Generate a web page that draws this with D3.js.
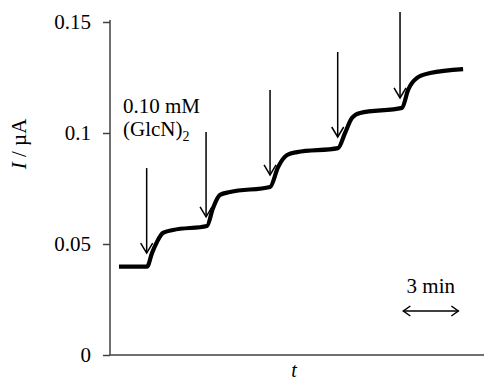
<!DOCTYPE html>
<html>
<head>
<meta charset="utf-8">
<script src="https://cdn.jsdelivr.net/npm/d3@7"></script>
<style>
  html, body { margin: 0; padding: 0; background: #fff; }
  text { font-family: "Liberation Serif", "Times New Roman", serif; fill: #000; }
</style>
</head>
<body>
<svg id="chart" width="484" height="380"></svg>
<script>
// amperometric trace, time in minutes, current in µA
const timeMin = [0.49, 2.02, 2.29, 2.56, 2.89, 3.44, 5.29, 5.62, 6.0, 6.55, 8.73, 9.17, 9.66, 10.2, 12.44, 12.82, 13.2, 13.64, 15.93, 16.26, 16.75, 17.46, 19.26];
const current = [0.0398, 0.0398, 0.0459, 0.0509, 0.0550, 0.0563, 0.0581, 0.0662, 0.0721, 0.0734, 0.0757, 0.0847, 0.0901, 0.0914, 0.0932, 0.1000, 0.1068, 0.1090, 0.1113, 0.1194, 0.1248, 0.1270, 0.1288];

// injection arrows
const arrowTime = [2.0, 5.24, 8.73, 12.42, 15.82];
const arrowTop = [0.0842, 0.1005, 0.1194, 0.1365, 0.1545];
const arrowTip = [0.0459, 0.0622, 0.0811, 0.0982, 0.1158];

const yTicks = [0, 0.05, 0.1, 0.15];
const yTickLabels = ['0', '0.05', '0.1', '0.15'];

const svg = d3.select('#chart');
const margin = { top: 22, right: 0, bottom: 25, left: 110 };
const width = 484 - margin.left - margin.right;
const height = 380 - margin.top - margin.bottom;

const x = d3.scaleLinear().domain([0, 20.4]).range([0, width]);
const y = d3.scaleLinear().domain([0, 0.15]).range([height, 0]);

const g = svg.append('g')
  .attr('transform', `translate(${margin.left},${margin.top})`);

// y axis
const yAxis = g.append('g')
  .call(d3.axisLeft(y).tickValues(yTicks).tickSize(7).tickPadding(12)
    .tickFormat((d, i) => yTickLabels[i]));
yAxis.select('.domain').attr('stroke', '#404040').attr('stroke-width', 1.5)
  .attr('d', `M0,${y(0.15) - 2}V${height}`);
yAxis.selectAll('.tick line').attr('stroke', '#404040').attr('stroke-width', 1.5);
yAxis.selectAll('.tick text')
  .style('font-family', '"Liberation Serif", serif')
  .style('font-size', '21px')
  .attr('fill', '#000');

// x axis (no ticks)
g.append('line')
  .attr('x1', 0).attr('x2', width)
  .attr('y1', height).attr('y2', height)
  .attr('stroke', '#404040').attr('stroke-width', 1.5);

// trace
const pts = timeMin.map((t, i) => [t, current[i]]);
g.append('path')
  .datum(pts)
  .attr('fill', 'none')
  .attr('stroke', '#000')
  .attr('stroke-width', 4.2)
  .attr('stroke-linejoin', 'round')
  .attr('d', d3.line().x(d => x(d[0])).y(d => y(d[1])).curve(d3.curveMonotoneX));

// arrows
arrowTime.forEach((t, i) => {
  const ax = x(t), y0 = y(arrowTop[i]), y1 = y(arrowTip[i]);
  g.append('line')
    .attr('x1', ax).attr('x2', ax).attr('y1', y0).attr('y2', y1)
    .attr('stroke', '#000').attr('stroke-width', 1.5);
  g.append('path')
    .attr('d', `M${ax - 6},${y1 - 10}L${ax},${y1}L${ax + 6},${y1 - 10}`)
    .attr('fill', 'none').attr('stroke', '#000').attr('stroke-width', 1.5);
});

// annotation
const note = g.append('text').attr('x', 13).attr('y', 113 - margin.top)
  .style('font-size', '21px');
note.append('tspan').text('0.10 mM');
const note2 = g.append('text').attr('x', 13).attr('y', 136 - margin.top)
  .style('font-size', '21px');
note2.append('tspan').text('(GlcN)');
note2.append('tspan').attr('dy', 5).style('font-size', '14px').text('2');

// scale bar
const sx0 = x(16.0), sx1 = x(19.0), sy = 311 - margin.top;
g.append('text').attr('x', (sx0 + sx1) / 2).attr('y', 293 - margin.top)
  .attr('text-anchor', 'middle').style('font-size', '21px').text('3 min');
g.append('line').attr('x1', sx0).attr('x2', sx1).attr('y1', sy).attr('y2', sy)
  .attr('stroke', '#000').attr('stroke-width', 1.5);
g.append('path')
  .attr('d', `M${sx0 + 7},${sy - 5}L${sx0},${sy}L${sx0 + 7},${sy + 5}M${sx1 - 7},${sy - 5}L${sx1},${sy}L${sx1 - 7},${sy + 5}`)
  .attr('fill', 'none').attr('stroke', '#000').attr('stroke-width', 1.5);

// axis titles
svg.append('text')
  .attr('transform', 'translate(26,144) rotate(-90)')
  .attr('text-anchor', 'middle')
  .style('font-size', '21px')
  .html('<tspan font-style="italic">I</tspan> / µA');
svg.append('text')
  .attr('x', 294).attr('y', 377)
  .attr('text-anchor', 'middle')
  .style('font-size', '20px').style('font-style', 'italic')
  .text('t');
</script>
</body>
</html>
